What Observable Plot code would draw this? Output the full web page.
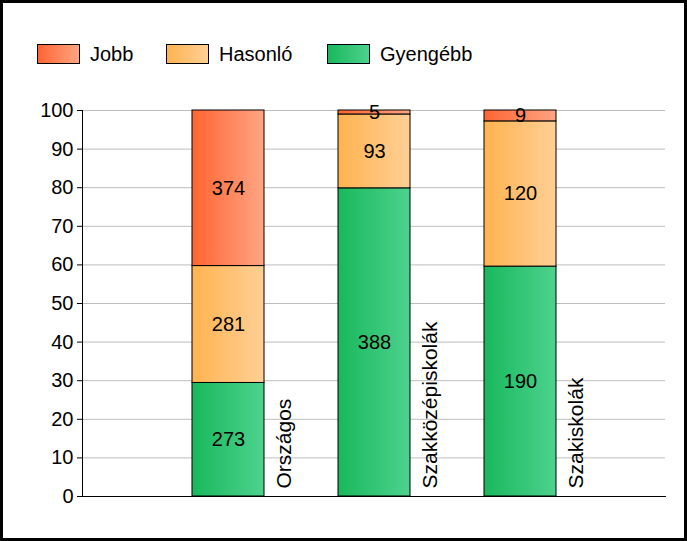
<!DOCTYPE html>
<html>
<head>
<meta charset="utf-8">
<script src="https://cdn.jsdelivr.net/npm/d3@7"></script>
<script src="https://cdn.jsdelivr.net/npm/@observablehq/plot@0.6"></script>
<style>
  html, body { margin: 0; padding: 0; background: #fff; }
  #wrap { position: relative; width: 687px; height: 541px; overflow: hidden; font-family: "Liberation Sans", Arial, sans-serif; }
  #wrap svg { position: absolute; left: 0; top: 0; }
  #border { position: absolute; left: 0; top: 0; width: 687px; height: 541px; box-sizing: border-box; border: 3px solid #000; pointer-events: none; }
  .leg { position: absolute; top: 44px; display: flex; align-items: center; font-size: 20px; color: #000; line-height: 19px; }
  .sw { width: 41px; height: 18px; border: 1px solid #000; margin-right: 10px; }
</style>
</head>
<body>
<div id="wrap"></div>
<script>
// Data
const categories = ["Országos", "Szakközépiskolák", "Szakiskolák"];
const series = ["Gyengébb", "Hasonló", "Jobb"];          // bottom to top
const gyengebb = [273, 388, 190];
const hasonlo  = [281, 93, 120];
const jobb     = [374, 5, 9];
const yTicks   = [0, 10, 20, 30, 40, 50, 60, 70, 80, 90, 100];
const legendOrder = ["Jobb", "Hasonló", "Gyengébb"];

const colorsLeft  = {"Jobb": "#ff6433", "Hasonló": "#ffb34f", "Gyengébb": "#19b85c"};
const colorsRight = {"Jobb": "#ffa583", "Hasonló": "#ffcf96", "Gyengébb": "#4dd28e"};
const gradId = {"Jobb": "gJobb", "Hasonló": "gHas", "Gyengébb": "gGy"};

// build stacked table
const valuesBySeries = {"Gyengébb": gyengebb, "Hasonló": hasonlo, "Jobb": jobb};
const rows = [];
categories.forEach((c, i) => {
  const total = series.reduce((s, k) => s + valuesBySeries[k][i], 0);
  let acc = 0;
  series.forEach(k => {
    const v = valuesBySeries[k][i];
    const p = v / total * 100;
    rows.push({cat: c, series: k, n: v, y1: acc, y2: acc + p, ym: acc + p / 2});
    acc += p;
  });
});

const W = 687, H = 541;
const chart = Plot.plot({
  width: W,
  height: H,
  marginLeft: 82,
  marginRight: 22,
  marginTop: 110,
  marginBottom: 45,
  style: {fontFamily: "'Liberation Sans', Arial, sans-serif", fontSize: "20px", color: "#000", background: "transparent"},
  x: {type: "band", domain: categories, range: [192, 556], paddingInner: 0.507, paddingOuter: 0, axis: null},
  y: {domain: [0, 100], axis: null},
  color: {type: "ordinal", domain: Object.keys(gradId), range: Object.keys(gradId).map(k => `url(#${gradId[k]})`)},
  marks: [
    Plot.gridY(yTicks, {stroke: "#bdbdbd", strokeOpacity: 1}),
    Plot.axisY(yTicks, {tickSize: 5, tickPadding: 4, fontSize: 20, stroke: "#000", tickFormat: d => d}),
    Plot.barY(rows, {x: "cat", y1: "y1", y2: "y2", fill: "series", stroke: "#000", strokeWidth: 1}),
    Plot.text(rows, {x: "cat", y: "ym", text: d => String(d.n), fontSize: 20, fill: "#000"}),
    Plot.text(categories, {x: d => d, y: () => 0, text: d => d, rotate: -90, textAnchor: "start", dx: 56, dy: -8, fontSize: 21, fill: "#000"}),
    Plot.frame({anchor: "left", stroke: "#000"}),
    Plot.frame({anchor: "bottom", stroke: "#000"})
  ]
});

// gradients
const ns = "http://www.w3.org/2000/svg";
const defs = document.createElementNS(ns, "defs");
Object.keys(gradId).forEach(k => {
  const g = document.createElementNS(ns, "linearGradient");
  g.setAttribute("id", gradId[k]);
  g.setAttribute("x1", "0"); g.setAttribute("x2", "1"); g.setAttribute("y1", "0"); g.setAttribute("y2", "0");
  const s1 = document.createElementNS(ns, "stop"); s1.setAttribute("offset", "0"); s1.setAttribute("stop-color", colorsLeft[k]);
  const s2 = document.createElementNS(ns, "stop"); s2.setAttribute("offset", "1"); s2.setAttribute("stop-color", colorsRight[k]);
  g.appendChild(s1); g.appendChild(s2); defs.appendChild(g);
});
chart.insertBefore(defs, chart.firstChild);

const wrap = document.getElementById("wrap");
wrap.appendChild(chart);

// legend (HTML)
const legLeft = {"Jobb": 37, "Hasonló": 166, "Gyengébb": 327};
legendOrder.forEach(k => {
  const item = document.createElement("div");
  item.className = "leg";
  item.style.left = legLeft[k] + "px";
  const sw = document.createElement("div");
  sw.className = "sw";
  sw.style.background = `linear-gradient(to right, ${colorsLeft[k]}, ${colorsRight[k]})`;
  const t = document.createElement("span");
  t.textContent = k;
  item.appendChild(sw); item.appendChild(t);
  wrap.appendChild(item);
});
const border = document.createElement("div");
border.id = "border";
wrap.appendChild(border);
</script>
</body>
</html>
